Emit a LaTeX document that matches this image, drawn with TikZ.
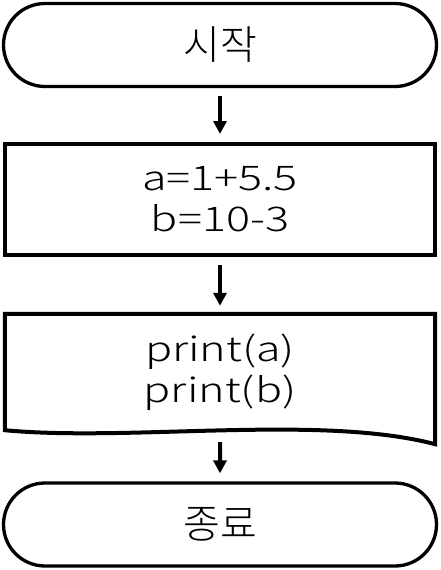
\documentclass[tikz,border=0pt]{standalone}
\usepackage{fontspec}
\setmainfont[UprightFont=* Light]{Noto Sans CJK KR}
\newfontfamily\latinf[FakeStretch=1.32,UprightFont=* Light]{Noto Sans CJK KR}
\usetikzlibrary{arrows.meta,shapes.misc}
\begin{document}
\begin{tikzpicture}[x=1pt,y=-1pt,
  every node/.style={align=center, inner sep=0pt},
  kor/.style={font=\fontsize{40}{48}\selectfont},
  lat/.style={font=\latinf\fontsize{34}{41}\selectfont},
  term/.style={rounded rectangle, draw, line width=3.3pt, minimum width=433pt, minimum height=83pt, kor},
  procbox/.style={rectangle, draw, line width=4pt, minimum width=430pt, minimum height=111pt, lat},
  flow/.style={line width=4pt, -{Triangle[width=13pt,length=13pt]}, shorten <=8pt, shorten >=8pt}
]
\useasboundingbox (0,0) rectangle (440,570);
\node[term] (start) at (220,45) {시작};
\node[procbox] (proc) at (220,199.5) {a=1+5.5\\b=10-3};
\node[minimum width=430pt, minimum height=116pt, lat] (doc) at (220,372) {print(a)\\print(b)};
\draw[line width=4pt, line join=miter] (doc.north west) -- (doc.north east) -- ([yshift=-14pt]doc.south east)
  .. controls (320,414) and (130,442) .. (doc.south west) -- cycle;
\node[term] (end) at (220,524.5) {종료};
\draw[flow] (start) -- (proc);
\draw[flow] (proc) -- (doc);
\draw[flow] ([yshift=-4pt]doc.south) -- (end);
\end{tikzpicture}
\end{document}
